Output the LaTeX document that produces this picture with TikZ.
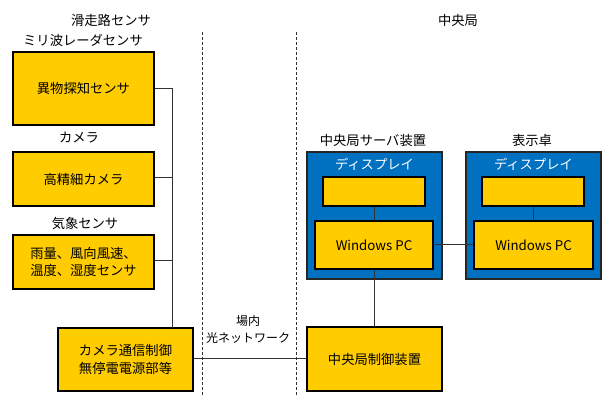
\documentclass[tikz,border=0pt]{standalone}
\usepackage{fontspec}
\setmainfont{Noto Sans CJK JP}
\begin{document}
\begin{tikzpicture}[x=1pt,y=-1pt,
  ybox/.style={draw=black,line width=1.4pt,fill=ycol,inner sep=0pt,align=center,font=\fontsize{13.3}{17.5}\selectfont},
  bbox/.style={draw=black!85,line width=1.2pt,fill=bcol,inner sep=0pt},
  lbl/.style={font=\fontsize{13.3}{16}\selectfont,inner sep=0pt},
  wire/.style={draw=black!80,line width=1pt},
  sep/.style={draw=black!80,line width=0.8pt,dash pattern=on 3pt off 2pt}]
\definecolor{ycol}{HTML}{FFCC00}
\definecolor{bcol}{HTML}{0070C0}
\useasboundingbox (0,0) rectangle (603,395);

% zone separators
\coordinate (s1t) at (202,32);
\coordinate (s1b) at (202,395);
\coordinate (s2t) at (296,32);
\coordinate (s2b) at (296,395);
\draw[sep] (s1t) -- (s1b);
\draw[sep] (s2t) -- (s2b);

% zone titles
\node[lbl] (trw) at (111,20) {滑走路センサ};
\node[lbl] (tcs) at (458,20) {中央局};

% runway sensors
\node[lbl] (lmw) at (83,40) {ミリ波レーダセンサ};
\node[ybox,minimum width=141pt,minimum height=73pt] (fod) at (83.5,88.5) {異物探知センサ};
\node[lbl] (lcam) at (79,138) {カメラ};
\node[ybox,minimum width=141pt,minimum height=54pt] (cam) at (83.5,179) {高精細カメラ};
\node[lbl] (lwx) at (85,223) {気象センサ};
\node[ybox,minimum width=141pt,minimum height=54pt] (wx) at (83.5,262) {雨量、風向風速、\\温度、湿度センサ};
\node[ybox,minimum width=135pt,minimum height=63pt] (ctl) at (125.5,359.5) {カメラ通信制御\\無停電電源部等};

% sensor bus
\coordinate (bus1) at (172,88.5);
\coordinate (bus2) at (172,178);
\coordinate (bus3) at (172,261);
\coordinate (busb) at (172,328);
\draw[wire] (fod.east) -- (bus1) -- (busb);
\draw[wire] (cam.east |- bus2) -- (bus2);
\draw[wire] (wx.east |- bus3) -- (bus3);

% network
\node[lbl,align=center,font=\fontsize{12}{17}\selectfont] (net) at (248,329) {場内\\光ネットワーク};

% central station
\node[lbl] (lsrv) at (373,140) {中央局サーバ装置};
\node[lbl] (ldesk) at (532,140) {表示卓};

\node[bbox,minimum width=135pt,minimum height=127pt] (srv) at (374.5,215.5) {};
\node[bbox,minimum width=135pt,minimum height=127pt] (desk) at (533.5,215.5) {};
\node[lbl,text=white] (dsp1) at (374.5,164) {ディスプレイ};
\node[lbl,text=white] (dsp2) at (533.5,164) {ディスプレイ};

\node[ybox,minimum width=102pt,minimum height=29pt] (scr1) at (374,191.5) {};
\node[ybox,minimum width=102pt,minimum height=29pt] (scr2) at (533,191.5) {};
\node[ybox,minimum width=118pt,minimum height=48pt] (pc1) at (374,245) {Windows PC};
\node[ybox,minimum width=119pt,minimum height=48pt] (pc2) at (533.5,245) {Windows PC};

\node[ybox,minimum width=135pt,minimum height=64pt] (cctl) at (374.5,359) {中央局制御装置};

\draw[wire] (scr1.south) -- (scr1.south |- pc1.north);
\draw[wire] (scr2.south) -- (scr2.south |- pc2.north);
\draw[wire] (pc1.east) -- (pc2.west);
\draw[wire] (pc1.south) -- (pc1.south |- cctl.north);
\draw[wire] (ctl.east |- cctl.west) -- (cctl.west);
\end{tikzpicture}
\end{document}
